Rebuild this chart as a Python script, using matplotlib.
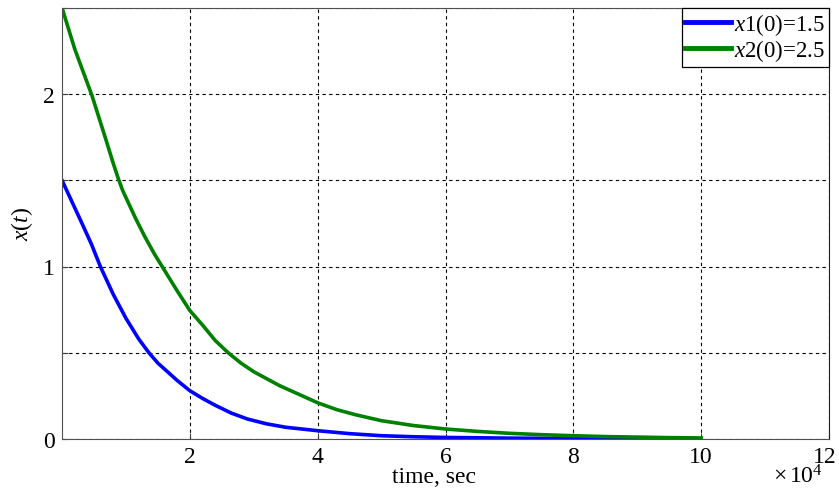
import matplotlib
matplotlib.use('Agg')
import matplotlib.pyplot as plt
import matplotlib.transforms as mtransforms

# time in units of 1e4 sec
t_x1 = [0.0, 0.15, 0.3, 0.46, 0.6, 0.7, 0.8, 0.9, 1.0, 1.1, 1.2, 1.36, 1.5, 1.62,
        1.8, 2.0, 2.2, 2.4, 2.65, 2.9, 3.2, 3.5, 4.0, 4.5, 5.0, 5.5, 6.0, 7.0, 8.0, 9.0]
x1 = [1.50, 1.38, 1.26, 1.13, 1.00, 0.92, 0.84, 0.77, 0.70, 0.64, 0.58, 0.50, 0.44, 0.40,
      0.34, 0.28, 0.235, 0.195, 0.15, 0.116, 0.088, 0.068, 0.048, 0.031, 0.019, 0.013,
      0.009, 0.005, 0.003, 0.002]

t_x2 = [0.0, 0.2, 0.47, 0.7, 0.8, 0.88, 0.95, 1.05, 1.15, 1.3, 1.45, 1.6, 1.8, 2.0,
        2.2, 2.4, 2.6, 2.8, 3.0, 3.2, 3.4, 3.7, 4.0, 4.3, 4.6, 5.0, 5.5, 6.0, 6.5, 7.0,
        7.5, 8.0, 8.5, 9.0, 9.5, 10.0]
x2 = [2.50, 2.26, 1.99, 1.72, 1.60, 1.51, 1.44, 1.36, 1.28, 1.17, 1.07, 0.98, 0.86,
      0.745, 0.66, 0.57, 0.50, 0.44, 0.39, 0.35, 0.31, 0.26, 0.21, 0.17, 0.14, 0.106,
      0.078, 0.058, 0.044, 0.033, 0.025, 0.019, 0.014, 0.011, 0.008, 0.006]

labels = ["$x$1(0)=1.5", "$x$2(0)=2.5"]
x_ticks = [2, 4, 6, 8, 10, 12]
y_ticks = [0, 0.5, 1, 1.5, 2, 2.5]
y_ticklabels = ["0", "", "1", "", "2", ""]

plt.rcParams['font.family'] = ['Liberation Serif', 'DejaVu Serif']
plt.rcParams['mathtext.fontset'] = 'custom'
plt.rcParams['mathtext.rm'] = 'Liberation Serif'
plt.rcParams['mathtext.it'] = 'Liberation Serif:italic'

fig = plt.figure(figsize=(8.39, 4.89), dpi=100)
ax = fig.add_axes([62 / 839, 49 / 489, (829 - 62) / 839, (440 - 8.75) / 489])

ax.plot(t_x1, x1, color='#0000ff', lw=2.6, label=labels[0])
ax.plot(t_x2, x2, color='#008000', lw=2.6, label=labels[1])

ax.set_xlim(0, 12)
ax.set_ylim(0, 2.5)
ax.set_xticks(x_ticks)
ax.set_yticks(y_ticks)
ax.set_yticklabels(y_ticklabels)
ax.tick_params(direction='in', length=4, labelsize=17, colors='#404040',
               labelcolor='black', pad=5)
ax.grid(True, color='black', linestyle=(0, (3, 3)), lw=0.8)

# last x label sits at the figure edge, pull it in a little
last = ax.get_xticklabels()[-1]
last.set_transform(last.get_transform() +
                   mtransforms.ScaledTranslation(-4 / 100, 0, fig.dpi_scale_trans))

for side in ['top', 'left', 'bottom']:
    ax.spines[side].set_color('#505050')
ax.spines['right'].set_color('#202020')

ax.set_xlabel("time, sec", fontsize=17, va='center')
ax.xaxis.set_label_coords(0.485, -0.088)
ax.set_ylabel("$x$($t$)", fontsize=17, va='center')
ax.yaxis.set_label_coords(-0.052, 0.5)
fig.text(0.921, 0.024, r"$\times\,10^{4}$", fontsize=17, va='center')

leg = ax.legend(loc='upper right', fontsize=16.5, borderaxespad=0, fancybox=False,
                edgecolor='black', framealpha=1, handlelength=2.0,
                handletextpad=0.15, borderpad=0.15, labelspacing=0.0)
leg.get_frame().set_linewidth(0.9)
for line in leg.get_lines():
    line.set_linewidth(3.5)

plt.savefig('out.png', dpi=100)
